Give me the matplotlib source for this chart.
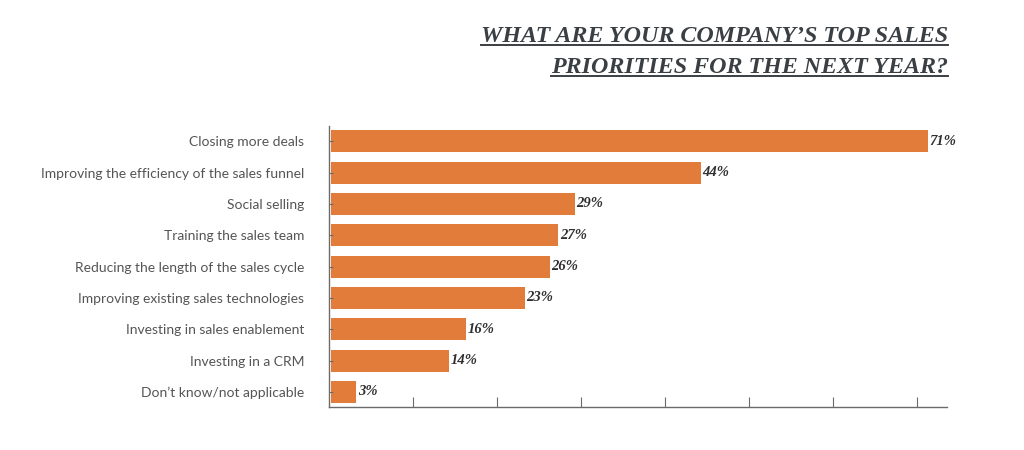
"""Horizontal bar chart: top sales priorities for the next year."""

import matplotlib

matplotlib.use("Agg")

import matplotlib.pyplot as plt
import numpy as np
from matplotlib.lines import Line2D

CATEGORIES = [
    "Closing more deals",
    "Improving the efficiency of the sales funnel",
    "Social selling",
    "Training the sales team",
    "Reducing the length of the sales cycle",
    "Improving existing sales technologies",
    "Investing in sales enablement",
    "Investing in a CRM",
    "Don\u2019t know/not applicable",
]
VALUES = [71, 44, 29, 27, 26, 23, 16, 14, 3]
TITLE_LINES = [
    "WHAT ARE YOUR COMPANY\u2019S TOP SALES",
    "PRIORITIES FOR THE NEXT YEAR?",
]

BAR_COLOR = "#E27C3A"
TITLE_COLOR = "#3a3f44"
LABEL_COLOR = "#555555"
AXIS_COLOR = "#6b6b6b"


def underline_text(fig, text, color, lw):
    renderer = fig.canvas.get_renderer()
    bbox = text.get_window_extent(renderer=renderer)
    inv = fig.transFigure.inverted()
    (x0, y0), (x1, _) = inv.transform([(bbox.x0, bbox.y0), (bbox.x1, bbox.y1)])
    y = y0 + 0.004
    fig.add_artist(Line2D([x0, x1], [y, y], transform=fig.transFigure, color=color, linewidth=lw))


def main():
    fig = plt.figure(figsize=(10.24, 4.5), dpi=100)
    ax = fig.add_axes([0.321, 0.0956, 0.604, 0.624])

    pos = np.arange(len(CATEGORIES))
    ax.barh(pos, VALUES, height=0.7, color=BAR_COLOR, left=0.3)
    ax.set_ylim(len(CATEGORIES) - 0.52, -0.48)
    ax.set_xlim(0, 73.6)

    ax.set_yticks(pos)
    ax.set_yticklabels(CATEGORIES, fontsize=10, color=LABEL_COLOR, family=["Lato", "DejaVu Sans"])
    ax.set_xticks(np.arange(10, 80, 10))
    ax.set_xticklabels([])
    ax.tick_params(axis="y", direction="in", length=3, color=AXIS_COLOR, pad=17.5)
    ax.tick_params(axis="x", direction="in", length=7, color=AXIS_COLOR)

    for side in ("top", "right"):
        ax.spines[side].set_visible(False)
    for side in ("left", "bottom"):
        ax.spines[side].set_color(AXIS_COLOR)
        ax.spines[side].set_linewidth(1.0)

    for y, v in zip(pos, VALUES):
        ax.text(v + 0.5, y, f"{v}%", va="center", ha="left", fontsize=10.5,
                fontweight="bold", fontstyle="italic", color="#2f2f2f",
                family=["Liberation Serif", "DejaVu Serif"])

    title_ys = [0.907, 0.838]
    texts = []
    for line, ty in zip(TITLE_LINES, title_ys):
        t = fig.text(0.926, ty, line, ha="right", va="baseline", fontsize=17.3,
                     fontweight="bold", fontstyle="italic", color=TITLE_COLOR,
                     family=["Liberation Serif", "DejaVu Serif"])
        texts.append(t)

    fig.canvas.draw()
    for t in texts:
        underline_text(fig, t, TITLE_COLOR, 1.4)

    fig.savefig("out.png", dpi=100)
    plt.close(fig)


if __name__ == "__main__":
    main()
